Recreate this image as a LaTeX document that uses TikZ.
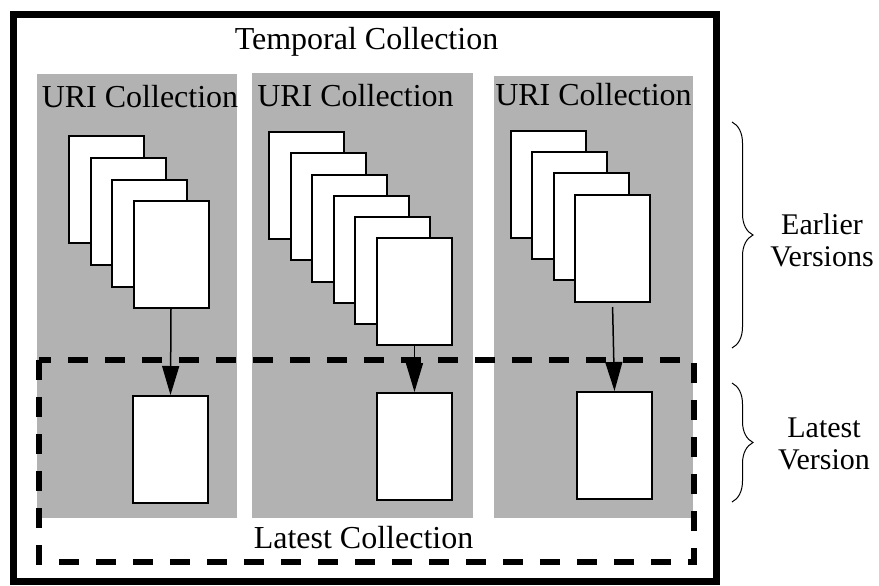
\documentclass[tikz,border=0pt]{standalone}
\usepackage{fontspec}
\setmainfont{Liberation Serif}
\usetikzlibrary{arrows.meta,decorations.pathreplacing}

\begin{document}
\begin{tikzpicture}[x=0.5pt,y=-0.5pt,
  panel/.style={fill=black!30, inner sep=0pt},
  page/.style={draw, fill=white, line width=1pt, inner sep=0pt, minimum width=37.5pt, minimum height=53.5pt},
  lbl/.style={font=\fontsize{16}{19}\selectfont, inner sep=0pt, anchor=base},
  side/.style={font=\fontsize{15}{16}\selectfont, align=center, inner sep=0pt},
  newest/.style={-{Triangle[length=14.5pt,width=8.5pt]}, line width=0.75pt}]
  \useasboundingbox (0,0) rectangle (879,585);

  % Temporal collection frame
  \draw[line width=3.5pt] (13.5,14.5) rectangle (716.5,581.5);
  \node[lbl] (temporal) at (366.5,49) {Temporal Collection};

  % URI collections
  \node[panel, minimum width=100pt, minimum height=222pt] (uri1) at (137,296) {};
  \node[panel, minimum width=110.5pt, minimum height=222.5pt] (uri2) at (362.5,295.5) {};
  \node[panel, minimum width=99.5pt, minimum height=221pt] (uri3) at (593.5,297) {};
  \node[lbl] (uri1label) at (140,107) {URI Collection};
  \node[lbl] (uri2label) at (355.5,106) {URI Collection};
  \node[lbl] (uri3label) at (593.5,105) {URI Collection};

  % Latest collection frame
  \draw[line width=3pt, dash pattern=on 10pt off 8.5pt] (39,360) rectangle (694,562);
  \node[lbl] (latest) at (363.5,548) {Latest Collection};

  % Earlier versions, first collection
  \node[page] (v1a) at (106.5,189.5) {};
  \node[page] (v1b) at (128,211.5) {};
  \node[page] (v1c) at (149.5,233.5) {};
  \node[page] (v1d) at (171,254.5) {};

  % Earlier versions, second collection
  \node[page] (v2a) at (306.5,185.5) {};
  \node[page] (v2b) at (328.5,206.5) {};
  \node[page] (v2c) at (349.5,228.5) {};
  \node[page] (v2d) at (371.5,249.5) {};
  \node[page] (v2e) at (392.5,270.5) {};
  \node[page] (v2f) at (414.5,291.5) {};

  % Earlier versions, third collection
  \node[page] (v3a) at (548.5,184.5) {};
  \node[page] (v3b) at (569.5,205.5) {};
  \node[page] (v3c) at (591,226.5) {};
  \node[page] (v3d) at (612.5,248.5) {};

  % Latest versions
  \node[page] (l1) at (170.5,449.5) {};
  \node[page] (l2) at (414.5,446.5) {};
  \node[page] (l3) at (614.5,445.5) {};

  % Arrows
  \draw[newest] (v1d.south) -- (l1.north);
  \draw[newest] (v2f.south) -- (l2.north);
  \draw[newest, shorten <=2pt] (v3d.south) -- (l3.north);

  % Braces
  \coordinate (earlierTop) at (732,122);
  \coordinate (earlierBot) at (732,348);
  \coordinate (latestTop) at (732,383);
  \coordinate (latestBot) at (732,502);
  \draw[decorate, decoration={brace, amplitude=10.5pt}, line width=0.5pt] (earlierTop) -- (earlierBot);
  \draw[decorate, decoration={brace, amplitude=10.5pt}, line width=0.5pt] (latestTop) -- (latestBot);
  \node[side] (earlier) at (822,240) {Earlier\\Versions};
  \node[side] (latestver) at (824,444) {Latest\\Version};

\end{tikzpicture}
\end{document}
